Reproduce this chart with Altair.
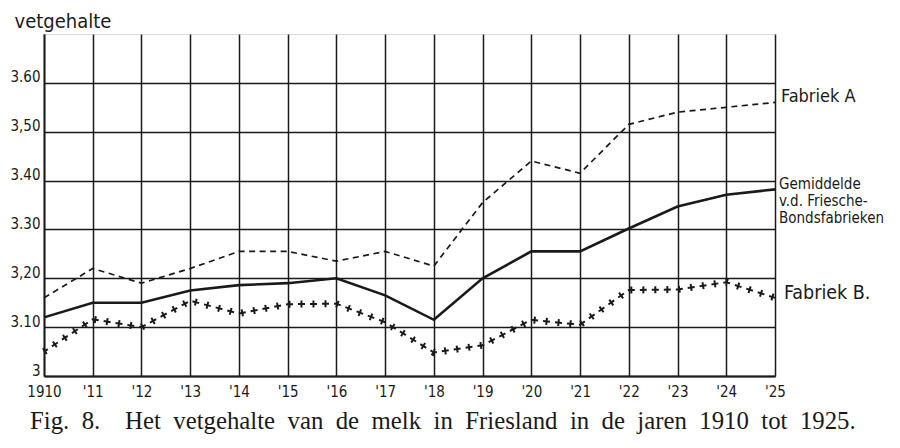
import json
import altair as alt
import pandas as pd

years = list(range(1910, 1926))
x_labels = ["1910", "'11", "'12", "'13", "'14", "'15", "'16", "'17", "'18", "'19",
            "'20", "'21", "'22", "'23", "'24", "'25"]
y_values = [3.0, 3.1, 3.2, 3.3, 3.4, 3.5, 3.6]
y_labels = ["3", "3.10", "3,20", "3.30", "3.40", "3,50", "3.60"]

fabriek_a = [3.16, 3.22, 3.19, 3.22, 3.255, 3.255, 3.235, 3.255, 3.225, 3.355,
             3.44, 3.415, 3.515, 3.54, 3.55, 3.56]
gemiddelde = [3.12, 3.15, 3.15, 3.175, 3.186, 3.19, 3.20, 3.165, 3.115, 3.20,
              3.255, 3.255, 3.302, 3.347, 3.371, 3.382]
fabriek_b = [3.05, 3.116, 3.10, 3.154, 3.128, 3.147, 3.148, 3.11, 3.048, 3.063,
             3.115, 3.105, 3.176, 3.177, 3.192, 3.16]

label_a = "Fabriek A"
label_gem = "Gemiddelde\nv.d. Friesche-\nBondsfabrieken"
label_b = "Fabriek B."
y_title = "vetgehalte"
caption_words = ["Fig.", "8.", "", "Het", "vetgehalte", "van", "de", "melk", "in",
                 "Friesland", "in", "de", "jaren", "1910", "tot", "1925."]
caption = " \u00a0".join(caption_words)

HAND = "DejaVu Sans Condensed, Liberation Sans Narrow, DejaVu Sans, sans-serif"
SERIF = "Liberation Serif, DejaVu Serif, serif"
INK = "#1a1a1a"

rows = []
for name, vals in (("A", fabriek_a), ("G", gemiddelde), ("B", fabriek_b)):
    for yr, v in zip(years, vals):
        rows.append({"jaar": yr, "vet": v, "serie": name})
df = pd.DataFrame(rows)

ends = pd.DataFrame([
    {"jaar": years[-1], "vet": fabriek_a[-1], "serie": "A", "txt": label_a},
    {"jaar": years[-1], "vet": gemiddelde[-1], "serie": "G", "txt": label_gem},
    {"jaar": years[-1], "vet": fabriek_b[-1], "serie": "B", "txt": label_b},
])

x_expr = json.dumps(x_labels) + "[round(datum.value - 1910)]"
y_expr = json.dumps(y_labels) + "[round((datum.value - 3) * 10)]"

x_enc = alt.X("jaar:Q",
              scale=alt.Scale(domain=[1910, 1925], nice=False, zero=False),
              axis=alt.Axis(values=years, labelExpr=x_expr, title=None, grid=True,
                            gridColor=INK, gridWidth=1.5, gridOpacity=1,
                            domainColor=INK, domainWidth=1.8, ticks=False,
                            labelFont=HAND, labelFontSize=15, labelColor=INK,
                            labelPadding=8, labelFlush=False))
y_enc = alt.Y("vet:Q",
              scale=alt.Scale(domain=[3.0, 3.7], nice=False, zero=False),
              axis=alt.Axis(values=y_values, labelExpr=y_expr, grid=True,
                            gridColor=INK, gridWidth=1.5, gridOpacity=1,
                            domainColor=INK, domainWidth=1.8, ticks=False,
                            labelFont=HAND, labelFontSize=15, labelColor=INK,
                            labelPadding=4, labelBaseline="alphabetic",
                            labelOffset=-1, labelFlush=False,
                            title=y_title, titleAngle=0, titleAlign="left",
                            titleBaseline="alphabetic", titleX=-30, titleY=-7,
                            titleFont=HAND, titleFontSize=20,
                            titleFontWeight="normal", titleColor=INK))

base = alt.Chart(df)

line_a = base.transform_filter(alt.datum.serie == "A").mark_line(
    color=INK, strokeWidth=1.7, strokeDash=[6, 4.5]
).encode(x=x_enc, y=y_enc)

line_g = base.transform_filter(alt.datum.serie == "G").mark_line(
    color=INK, strokeWidth=2.6
).encode(x="jaar:Q", y="vet:Q")

b_cross1 = base.transform_filter(alt.datum.serie == "B").mark_line(
    color=INK, strokeWidth=7, strokeDash=[2, 10], strokeCap="butt"
).encode(x="jaar:Q", y="vet:Q")
b_cross2 = base.transform_filter(alt.datum.serie == "B").mark_line(
    color=INK, strokeWidth=2, strokeDash=[7, 5], strokeDashOffset=2.5,
    strokeCap="butt"
).encode(x="jaar:Q", y="vet:Q")

tbase = alt.Chart(ends)
txt_a = tbase.transform_filter(alt.datum.serie == "A").mark_text(
    align="left", baseline="middle", dx=6, dy=-5, font=HAND, fontSize=18,
    color=INK
).encode(x="jaar:Q", y="vet:Q", text="txt:N")
txt_g = tbase.transform_filter(alt.datum.serie == "G").mark_text(
    align="left", baseline="top", dx=4, dy=-12, font=HAND, fontSize=15,
    lineHeight=17, lineBreak="\n", color=INK
).encode(x="jaar:Q", y="vet:Q", text="txt:N")
txt_b = tbase.transform_filter(alt.datum.serie == "B").mark_text(
    align="left", baseline="middle", dx=9, dy=-5, font=HAND, fontSize=19.5,
    color=INK
).encode(x="jaar:Q", y="vet:Q", text="txt:N")

chart = alt.layer(line_a, line_g, b_cross1, b_cross2, txt_a, txt_g, txt_b).properties(
    width=731, height=342,
    autosize=alt.AutoSizeParams(type="none"),
    padding={"left": 36, "top": 26, "right": 110, "bottom": 60},
    title=alt.TitleParams(caption, orient="bottom", anchor="start", font=SERIF,
                          fontSize=24.8, fontWeight="normal", color=INK,
                          offset=10, dx=20),
).configure_view(stroke=INK, strokeWidth=1.8).configure(background="white")

chart.save("out.html", embed_options={"renderer": "svg", "actions": False})
